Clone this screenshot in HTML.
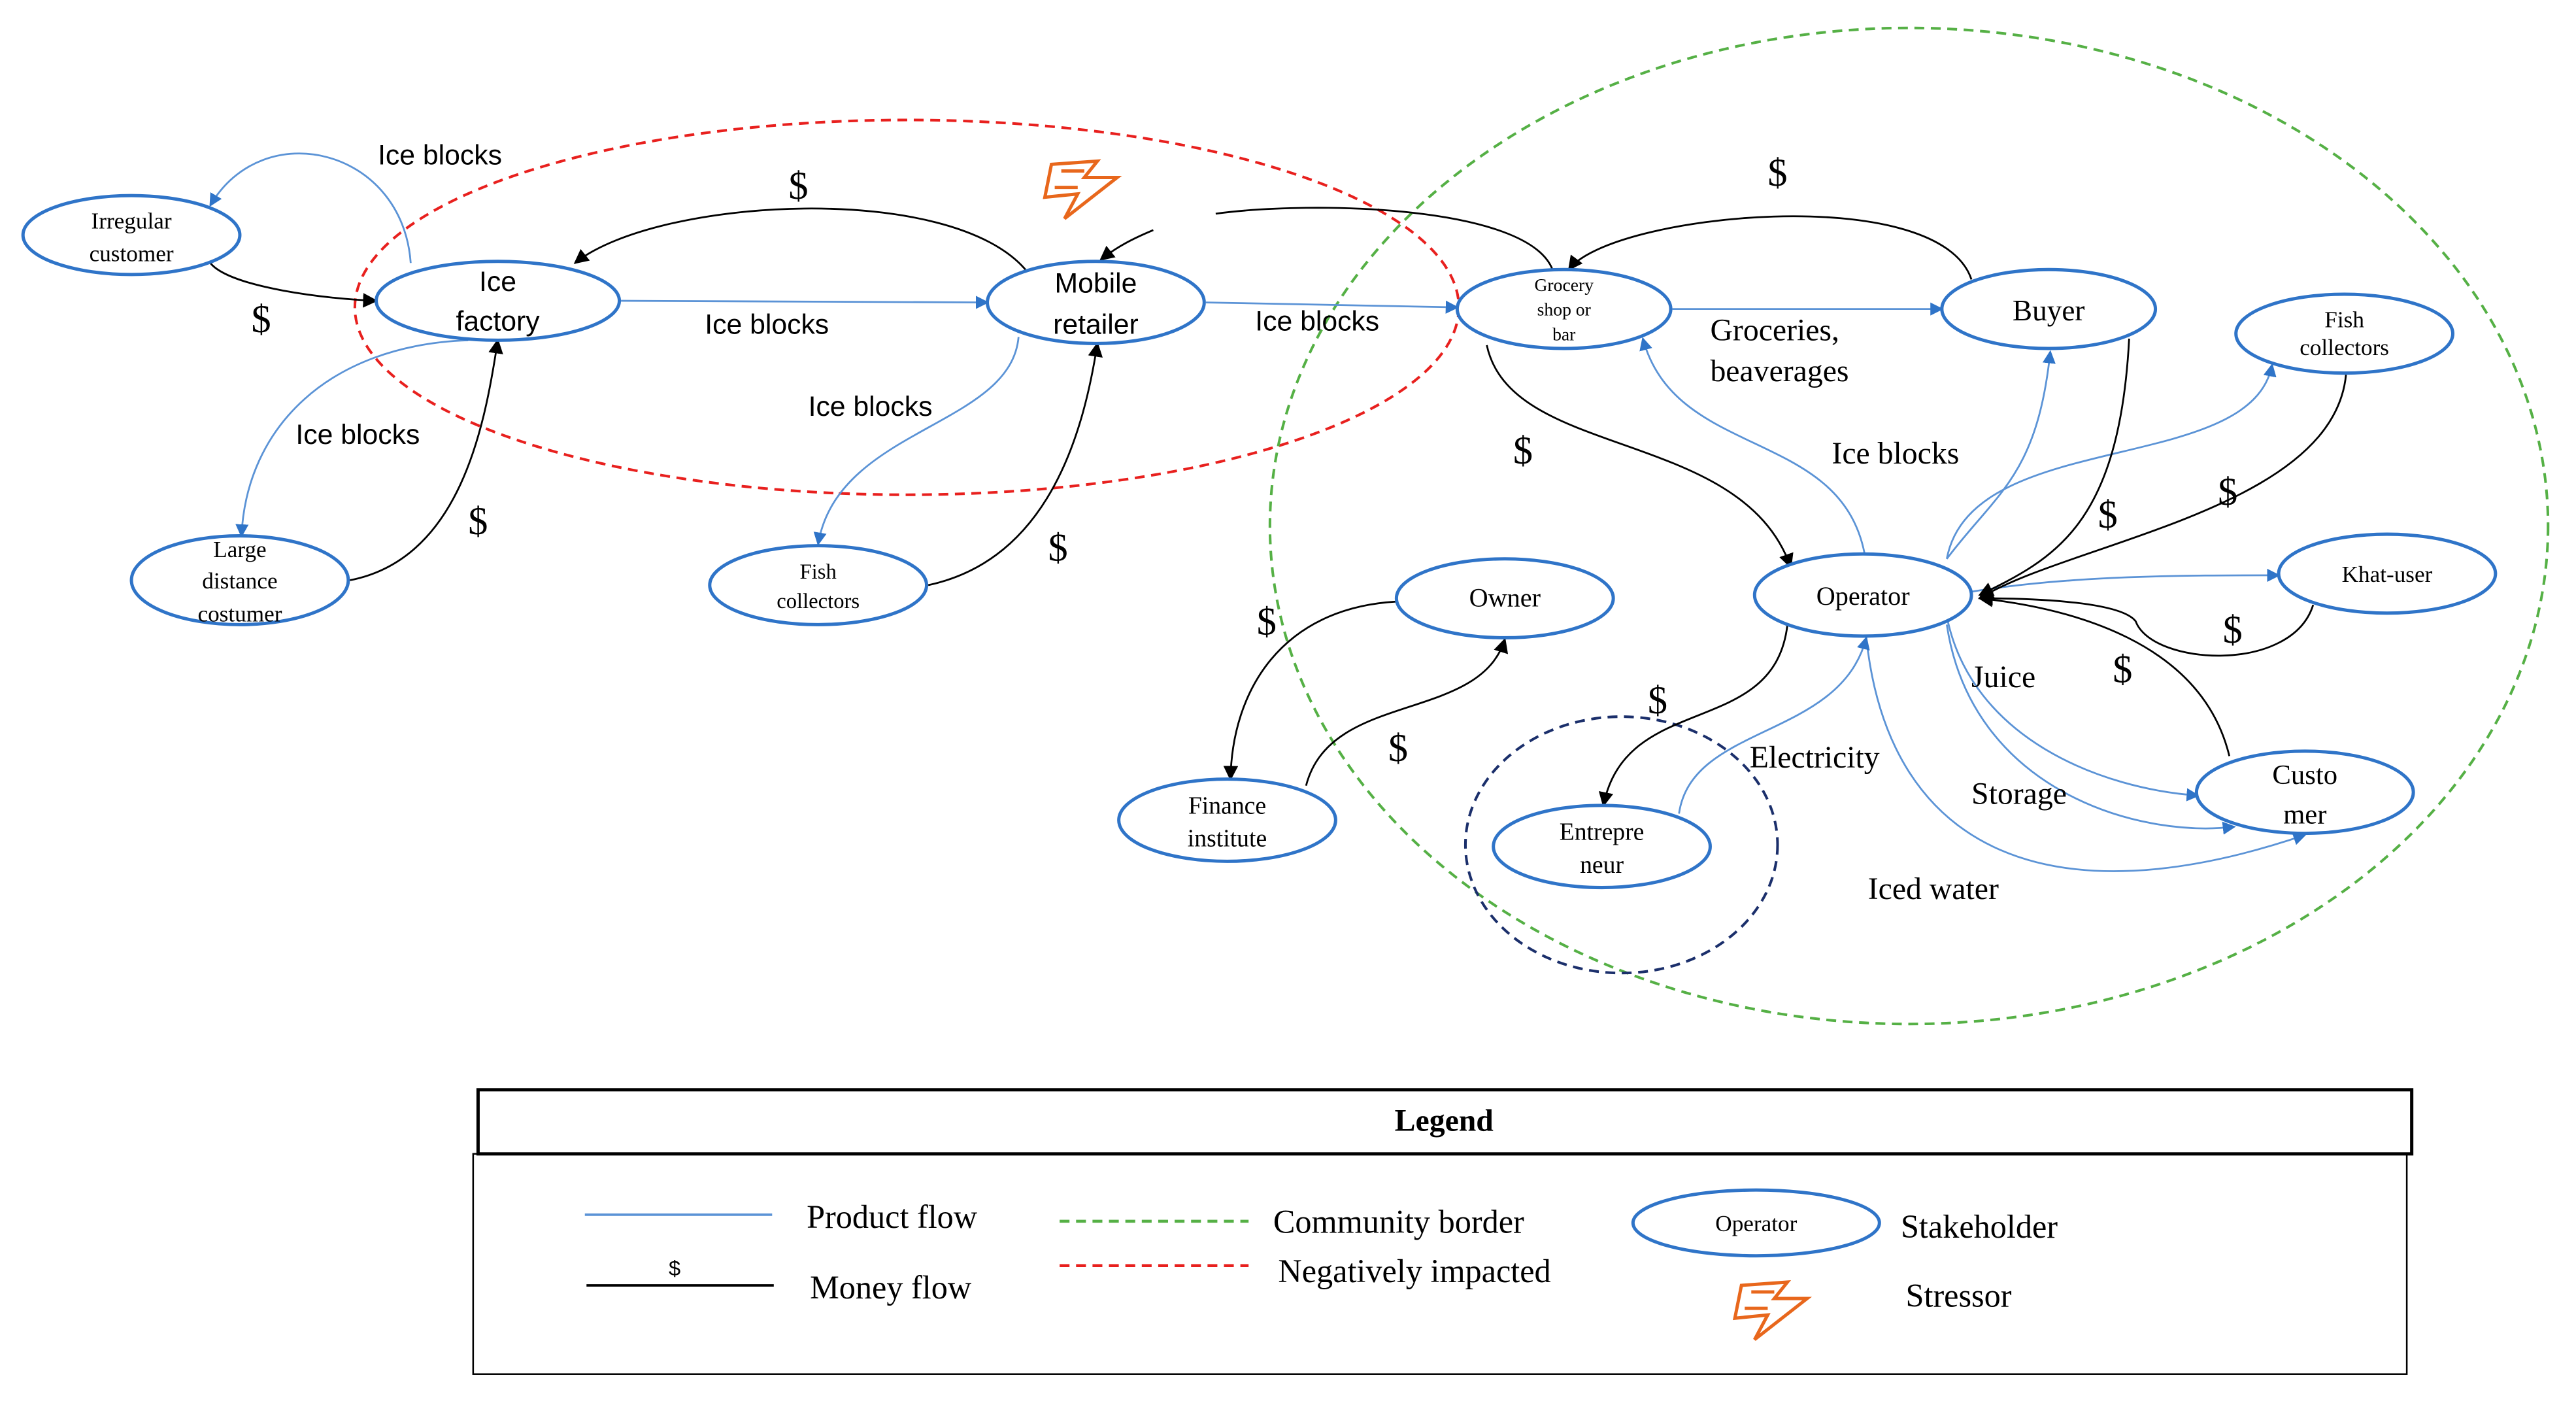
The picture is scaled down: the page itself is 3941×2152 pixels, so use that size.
<!DOCTYPE html>
<html><head><meta charset="utf-8"><style>html,body{margin:0;padding:0;background:#fff}svg{display:block}</style></head>
<body>
<svg width="3941" height="2152" viewBox="0 0 1568 856" preserveAspectRatio="none" xmlns="http://www.w3.org/2000/svg">
<defs>
<marker id="ab" markerWidth="8" markerHeight="8" refX="7" refY="4" orient="auto" markerUnits="userSpaceOnUse"><path d="M0,0 L8,4 L0,8 z" fill="#2f74c8"/></marker>
<marker id="ak" markerWidth="9" markerHeight="9" refX="8" refY="4.5" orient="auto" markerUnits="userSpaceOnUse"><path d="M0,0 L9,4.5 L0,9 z" fill="#000"/></marker>
</defs>
<rect width="1568" height="856" fill="#fff"/>
<g fill="none" stroke-width="1.6" stroke-dasharray="6,4">
<ellipse cx="552" cy="187" rx="336" ry="114" stroke="#e8201e"/>
<ellipse cx="1162" cy="320" rx="389" ry="303" stroke="#55b045"/>
<ellipse cx="987" cy="514" rx="95" ry="78" stroke="#1b2f6b"/>
</g>
<g fill="none" stroke="#5b93d6" stroke-width="1.1" marker-end="url(#ab)">
<path d="M250,160 C245,90 160,70 128,125"/>
<path d="M378,183 L601,184"/>
<path d="M734,184 L887,187"/>
<path d="M285,207 C200,210 150,260 147,326"/>
<path d="M620,205 C615,260 510,260 498,331"/>
<path d="M1018,188 L1182,188"/>
<path d="M1135,337 C1120,260 1020,280 1000,206"/>
<path d="M1185,340 C1215,300 1240,290 1248,214"/>
<path d="M1185,340 C1200,260 1370,290 1383,222"/>
<path d="M1200,360 C1260,350 1330,350 1387,350"/>
<path d="M1185,375 C1200,450 1280,480 1338,484"/>
<path d="M1185,380 C1200,480 1300,510 1360,503"/>
<path d="M1136,388 C1150,520 1250,560 1403,508"/>
<path d="M1022,495 C1030,440 1120,450 1136,388"/>
</g>
<g fill="none" stroke="#000" stroke-width="1.1" marker-end="url(#ak)">
<path d="M128,160 C140,175 200,182 229,183"/>
<path d="M213,353 C280,340 295,260 303,207"/>
<path d="M625,165 C580,110 400,120 350,160"/>
<path d="M565,356 C640,340 660,260 668,209"/>
<path d="M702,140 C690,145 680,150 670,158"/>
<path d="M1200,170 C1180,110 980,130 955,164"/>
<path d="M905,210 C920,280 1060,260 1090,345"/>
<path d="M1296,206 C1290,320 1250,340 1205,362"/>
<path d="M1428,228 C1420,310 1260,330 1205,364"/>
<path d="M1408,368 C1395,410 1310,405 1300,378 C1290,365 1230,364 1205,364"/>
<path d="M1357,460 C1340,390 1260,370 1205,364"/>
<path d="M1088,380 C1080,450 990,420 976,490"/>
<path d="M850,366 C780,370 750,420 749,474"/>
<path d="M795,478 C810,420 900,440 916,389"/>
</g>
<path d="M945,164 C930,125 800,122 740,130" fill="none" stroke="#000" stroke-width="1.1"/>
<g fill="#fff" stroke="#2f74c8" stroke-width="2">
<ellipse cx="80" cy="143" rx="66" ry="24"/>
<ellipse cx="303" cy="183" rx="74" ry="24"/>
<ellipse cx="667" cy="184" rx="66" ry="25"/>
<ellipse cx="952" cy="188" rx="65" ry="24"/>
<ellipse cx="1247" cy="188" rx="65" ry="24"/>
<ellipse cx="1427" cy="203" rx="66" ry="24"/>
<ellipse cx="146" cy="353" rx="66" ry="27"/>
<ellipse cx="498" cy="356" rx="66" ry="24"/>
<ellipse cx="916" cy="364" rx="66" ry="24"/>
<ellipse cx="1134" cy="362" rx="66" ry="25"/>
<ellipse cx="1453" cy="349" rx="66" ry="24"/>
<ellipse cx="747" cy="499" rx="66" ry="25"/>
<ellipse cx="975" cy="515" rx="66" ry="25"/>
<ellipse cx="1403" cy="482" rx="66" ry="25"/>
<ellipse cx="1069" cy="744" rx="75" ry="20"/>
</g>
<g font-family="Liberation Serif, serif" text-anchor="middle" fill="#000">
<text x="80" y="139" font-size="14">Irregular</text><text x="80" y="159" font-size="14">customer</text>
<text x="952" y="177" font-size="11">Grocery</text><text x="952" y="192" font-size="11">shop or</text><text x="952" y="207" font-size="11">bar</text>
<text x="1247" y="195" font-size="18">Buyer</text>
<text x="1427" y="199" font-size="14">Fish</text><text x="1427" y="216" font-size="14">collectors</text>
<text x="146" y="339" font-size="14">Large</text><text x="146" y="358" font-size="14">distance</text><text x="146" y="378" font-size="14">costumer</text>
<text x="498" y="352" font-size="13">Fish</text><text x="498" y="370" font-size="13">collectors</text>
<text x="916" y="369" font-size="16">Owner</text>
<text x="1134" y="368" font-size="16">Operator</text>
<text x="1453" y="354" font-size="14">Khat-user</text>
<text x="747" y="495" font-size="15">Finance</text><text x="747" y="515" font-size="15">institute</text>
<text x="975" y="511" font-size="15">Entrepre</text><text x="975" y="531" font-size="15">neur</text>
<text x="1403" y="477" font-size="17">Custo</text><text x="1403" y="501" font-size="17">mer</text>
<text x="1069" y="749" font-size="14">Operator</text>
</g>
<g font-family="Liberation Sans, sans-serif" text-anchor="middle" fill="#000">
<text x="303" y="177" font-size="17">Ice</text><text x="303" y="201" font-size="17">factory</text>
<text x="667" y="178" font-size="17">Mobile</text><text x="667" y="203" font-size="17">retailer</text>
</g>
<g font-family="Liberation Sans, sans-serif" font-size="17" fill="#000">
<text x="230" y="100">Ice blocks</text>
<text x="429" y="203">Ice blocks</text>
<text x="764" y="201">Ice blocks</text>
<text x="180" y="270">Ice blocks</text>
<text x="492" y="253">Ice blocks</text>
</g>
<g font-family="Liberation Serif, serif" font-size="19" fill="#000">
<text x="1041" y="207">Groceries,</text><text x="1041" y="232">beaverages</text>
<text x="1115" y="282">Ice blocks</text>
<text x="1200" y="418">Juice</text>
<text x="1200" y="489">Storage</text>
<text x="1137" y="547">Iced water</text>
<text x="1065" y="467">Electricity</text>
</g>
<g font-family="Liberation Serif, serif" font-size="24" fill="#000">
<text x="153" y="202">$</text><text x="285" y="325">$</text><text x="480" y="121">$</text>
<text x="638" y="341">$</text><text x="1076" y="113">$</text><text x="921" y="282">$</text>
<text x="1277" y="321">$</text><text x="1350" y="307">$</text><text x="1353" y="391">$</text>
<text x="1286" y="415">$</text><text x="1003" y="434">$</text><text x="765" y="386">$</text>
<text x="845" y="463">$</text>
</g>
<g fill="none" stroke="#e8671c" stroke-width="2">
<path d="M640,100 L668,98 L660,108 L680,108 L648,133 L656,118 L636,120 Z"/>
<path d="M646,104 L660,104"/><path d="M642,114 L656,114"/>
<path d="M1060,782 L1088,780 L1080,790 L1100,790 L1068,815 L1076,800 L1056,802 Z"/>
<path d="M1066,786 L1080,786"/><path d="M1062,796 L1076,796"/>
</g>
<rect x="291" y="663" width="1177" height="39" fill="#fff" stroke="#000" stroke-width="2"/>
<rect x="288" y="702" width="1177" height="134" fill="none" stroke="#000" stroke-width="1"/>
<text x="879" y="688" font-family="Liberation Serif, serif" font-size="19" font-weight="bold" text-anchor="middle">Legend</text>
<line x1="356" y1="739" x2="470" y2="739" stroke="#5b93d6" stroke-width="1.5"/>
<line x1="357" y1="782" x2="471" y2="782" stroke="#000" stroke-width="1.5"/>
<text x="407" y="776" font-family="Liberation Sans, sans-serif" font-size="13">$</text>
<line x1="645" y1="743" x2="760" y2="743" stroke="#55b045" stroke-width="1.8" stroke-dasharray="6,4"/>
<line x1="645" y1="770" x2="760" y2="770" stroke="#e8201e" stroke-width="1.8" stroke-dasharray="6,4"/>
<g font-family="Liberation Serif, serif" font-size="20" fill="#000">
<text x="491" y="747">Product flow</text>
<text x="493" y="790">Money flow</text>
<text x="775" y="750">Community border</text>
<text x="778" y="780">Negatively impacted</text>
<text x="1157" y="753">Stakeholder</text>
<text x="1160" y="795">Stressor</text>
</g>
</svg>
</body></html>
